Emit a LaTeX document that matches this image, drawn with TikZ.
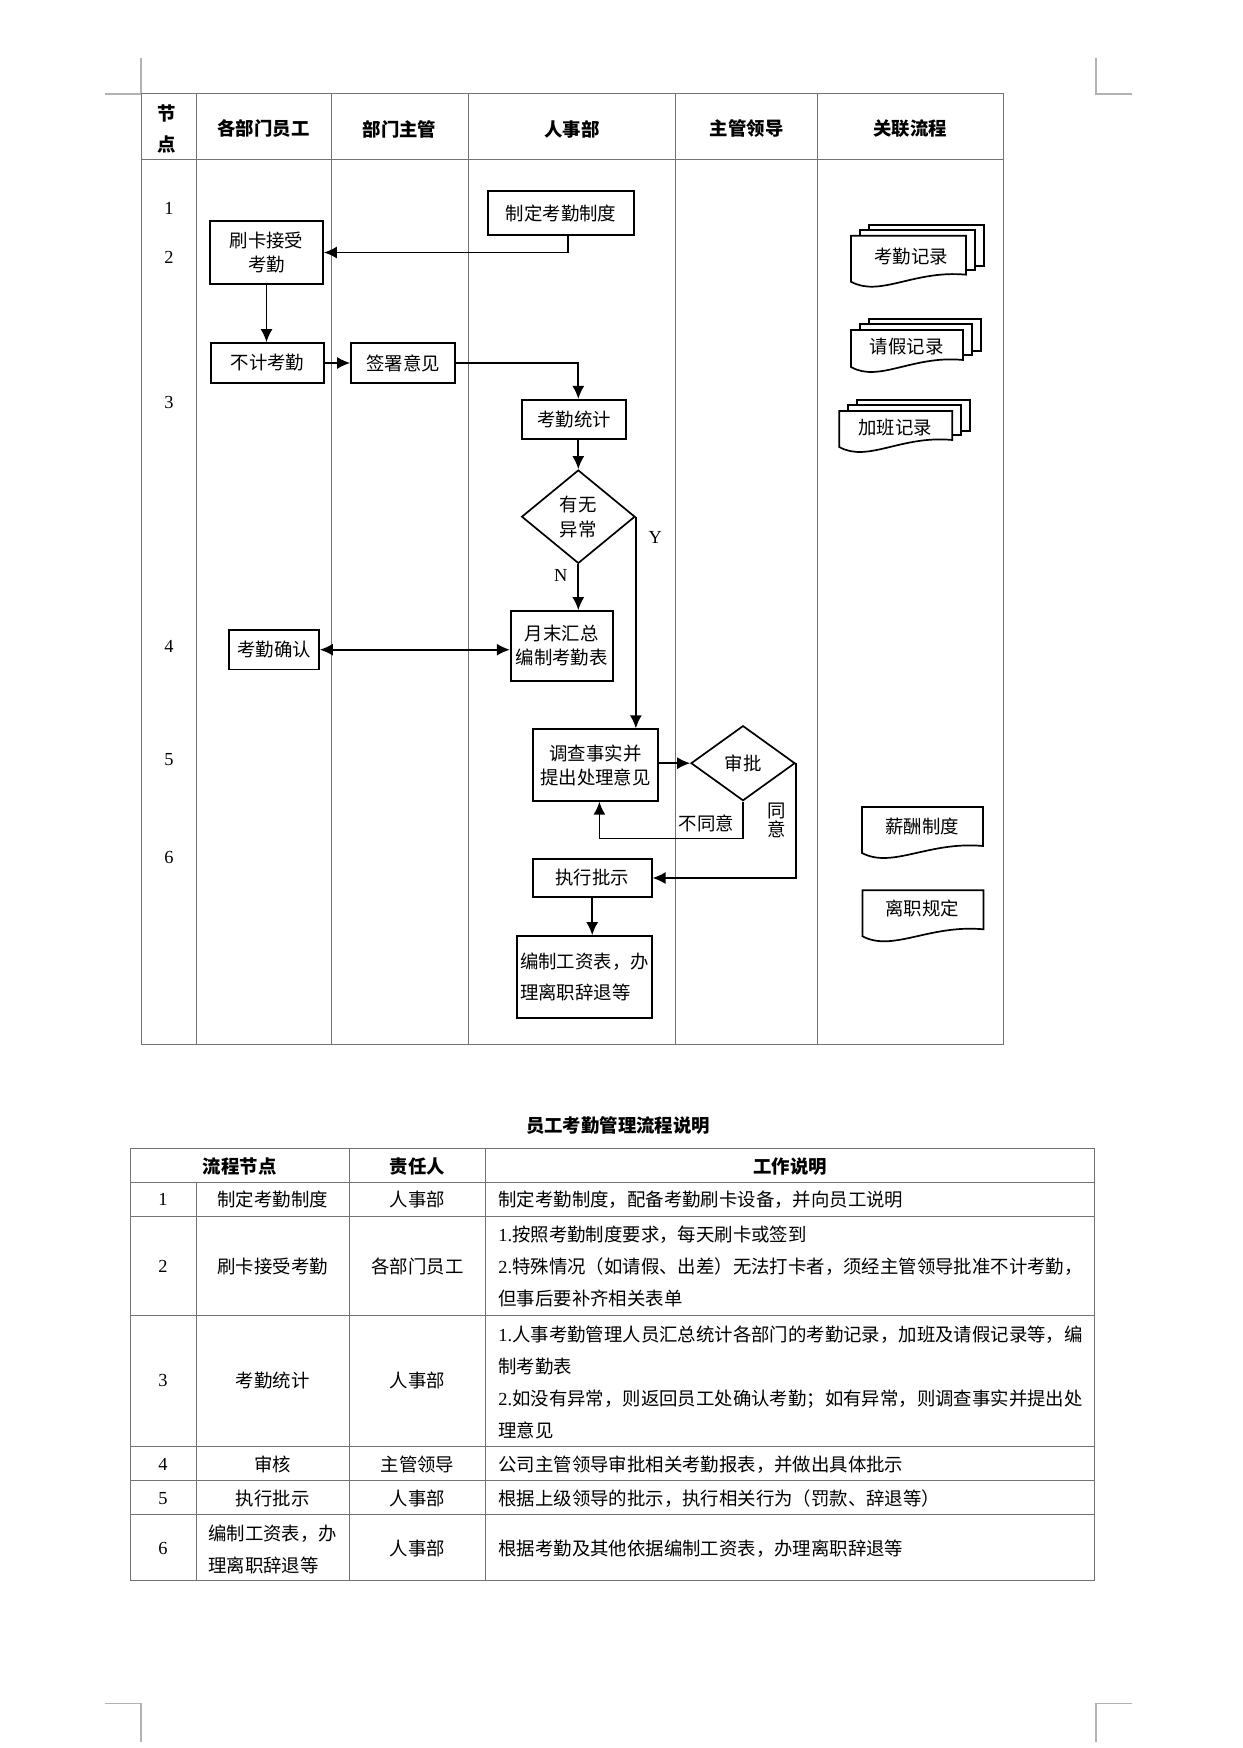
\documentclass[tikz,border=0pt]{standalone}
\usepackage{fontspec}
\setmainfont{Noto Sans CJK SC}
\newfontfamily\serifnum{Liberation Serif}
\usetikzlibrary{arrows.meta, shapes.geometric, positioning, calc}
\tikzset{> = { Latex[length = 6.5pt, width = 6pt] }}
\tikzset{
	grid/.style = {draw = black!55, line width = 0.5pt},
	crop/.style = {draw = black!30, line width = 0.6pt},
	box/.style = {draw, line width = 0.85pt, inner sep = 0pt, align = center, font = \fontsize{9.2}{12}\selectfont},
	dia/.style = {draw, diamond, line width = 0.85pt, inner sep = 0pt, align = center, font = \fontsize{9.2}{12.5}\selectfont},
	flow/.style = {line width = 0.85pt, ->},
	head/.style = {inner sep = 0pt, align = center, font = \fontsize{9.2}{15.5}\selectfont\bfseries},
	txt/.style = {inner sep = 0pt, align = left, font = \fontsize{9.2}{16}\selectfont},
	num/.style = {inner sep = 0pt, font = \fontsize{9.2}{11}\serifnum},
	doc/.style = {draw, fill = white, line width = 0.85pt}
}
% document symbol: x, y, width, height
\newcommand{\docshape}[4]{%
	\draw[doc] (#1, #2 + #4) -- (#1, #2) -- (#1 + #3, #2) -- (#1 + #3, #2 + #4 - 7)
		.. controls (#1 + 0.55*#3, #2 + #4 - 12) and (#1 + 0.25*#3, #2 + #4 + 16) .. cycle;}
\newcommand{\stackdoc}[4]{%
	\draw[doc] (#1 + 18, #2 - 11) rectangle (#1 + #3 + 18, #2 + #4 - 16);
	\draw[doc] (#1 + 9, #2 - 6) rectangle (#1 + #3 + 9, #2 + #4 - 12);
	\docshape{#1}{#2}{#3}{#4}}

\begin{document}
\begin{tikzpicture}[x = 0.5pt, y = -0.5pt]
	\fill [white] (0, 0) rectangle (1242, 1748);
	\useasboundingbox (0, 0) rectangle (1242, 1748);

	% crop marks
	\draw [crop] (141, 58) -- (141, 94) -- (105, 94);
	\draw [crop] (1096, 58) -- (1096, 94) -- (1132, 94);
	\draw [crop] (141, 1742) -- (141, 1703.6) -- (105, 1703.6);
	\draw [crop] (1096, 1742) -- (1096, 1703.6) -- (1132, 1703.6);

	% swimlanes
	\draw [grid] (141, 94) rectangle (1003, 1044);
	\draw [grid] (141, 160) -- (1003, 160);
	\foreach \x in {196, 331, 468.3, 675.7, 817.7}
		\draw [grid] (\x, 94) -- (\x, 1044);

	\node [head] (hjd) at (166.7, 128.7) {节\\点};
	\node [head] (hyg) at (263.5, 129) {各部门员工};
	\node [head] (hzg) at (399.5, 129) {部门主管};
	\node [head] (hrs) at (572, 129) {人事部};
	\node [head] (hld) at (746.7, 129) {主管领导};
	\node [head] (hgl) at (910.3, 129) {关联流程};

	\node [num] (n1) at (169, 208.5) {1};
	\node [num] (n2) at (169, 257.5) {2};
	\node [num] (n3) at (169, 403) {3};
	\node [num] (n4) at (169, 646) {4};
	\node [num] (n5) at (169, 759.5) {5};
	\node [num] (n6) at (169, 857) {6};

	% flow
	\node [box, minimum width = 73pt, minimum height = 22pt] (zhiding) at (561, 213) {制定考勤制度};
	\node [box, minimum width = 56.5pt, minimum height = 31.5pt] (shuaka) at (266.5, 252.5) {刷卡接受\\考勤};
	\node [box, minimum width = 56.5pt, minimum height = 20pt] (buji) at (267.5, 363) {不计考勤};
	\node [box, minimum width = 52pt, minimum height = 20pt] (qianshu) at (403, 363) {签署意见};
	\node [box, minimum width = 52pt, minimum height = 19.7pt] (tongji) at (574, 419.5) {考勤统计};
	\node [dia, minimum width = 56.7pt, minimum height = 46.7pt] (youwu) at (578.3, 516.7) {有无\\异常};
	\node [box, minimum width = 51pt, minimum height = 35pt] (yuemo) at (561.7, 646) {月末汇总\\编制考勤表};
	\node [box, minimum width = 45pt, minimum height = 19.7pt] (queren) at (274, 649.7) {考勤确认};
	\node [box, minimum width = 62.3pt, minimum height = 35.8pt] (diaocha) at (595.4, 765) {调查事实并\\提出处理意见};
	\node [dia, minimum width = 52pt, minimum height = 37.5pt] (shenpi) at (743, 763.2) {审批};
	\node [box, minimum width = 59.5pt, minimum height = 19pt] (zhixing) at (592.2, 878) {执行批示};
	\node [box, minimum width = 67.5pt, minimum height = 41pt, align = left, font = \fontsize{9.2}{15.5}\selectfont] (bianzhi) at (584.5, 977) {编制工资表，办\\理离职辞退等};

	\draw [flow] ([xshift = 3.5pt]zhiding.south) |- (shuaka.east);
	\draw [flow] (shuaka.south) -- (shuaka.south |- buji.north);
	\draw [flow] (buji.east) -- (qianshu.west);
	\draw [flow] (qianshu.east) -| (tongji.north -| youwu.north);
	\draw [flow] (tongji.south -| youwu.north) -- (youwu.north);
	\draw [flow] (youwu.south) -- node[num, pos = 0.25, left = 5pt]{N} (yuemo.north -| youwu.south);
	\draw [<->, line width = 0.85pt] (queren.east) -- (queren.east -| yuemo.west);
	\draw [flow] (youwu.east) -- node[num, pos = 0.1, right = 6pt]{Y} (youwu.east |- diaocha.north);
	\draw [flow] (diaocha.east |- shenpi.west) -- (shenpi.west);
	\draw [flow] (shenpi.south) -- ++(0, 37) node[txt, above left = 3pt and 4pt]{不同意} -| ([xshift = 2pt]diaocha.south);
	\draw [flow] (shenpi.east) |- node[txt, pos = 0.25, left = 4.5pt, align = center, font = \fontsize{9.2}{8}\selectfont]{同\\意} (zhixing.east);
	\draw [flow] (zhixing.south) -- (zhixing.south |- bianzhi.north);

	% related documents
	\stackdoc{851}{235.7}{115}{46}
	\node [txt] (kqjl) at (911, 257) {考勤记录};
	\stackdoc{851}{330}{112}{37}
	\node [txt] (qjjl) at (906.7, 346.7) {请假记录};
	\stackdoc{839.3}{411}{113}{36}
	\node [txt] (jbjl) at (895.3, 427.7) {加班记录};
	\docshape{862}{807}{121}{46}
	\node [txt] (xczd) at (922, 826) {薪酬制度};
	\docshape{862.5}{890.3}{121}{46}
	\node [txt] (lzgd) at (922, 908.6) {离职规定};

	% description table
	\node [head] (ttl) at (618, 1126) {员工考勤管理流程说明};
	\draw [grid] (130, 1148.3) rectangle (1094, 1580.7);
	\foreach \y in {1182.7, 1216.7, 1315, 1446, 1480, 1514}
		\draw [grid] (130, \y) -- (1094, \y);
	\draw [grid] (196, 1182.7) -- (196, 1580.7);
	\foreach \x in {349.3, 485.7}
		\draw [grid] (\x, 1148.3) -- (\x, 1580.7);

	\node [head] (tjd) at (239.7, 1166.5) {流程节点};
	\node [head] (tzr) at (417.5, 1166.5) {责任人};
	\node [head] (tsm) at (790, 1166.5) {工作说明};

	\node [num] (r1) at (163, 1199.7) {1};
	\node [txt] (a1) at (272.7, 1199.7) {制定考勤制度};
	\node [txt] (b1) at (417.5, 1199.7) {人事部};
	\node [txt, anchor = west] (c1) at (498, 1199.7) {制定考勤制度，配备考勤刷卡设备，并向员工说明};

	\node [num] (r2) at (163, 1266) {2};
	\node [txt] (a2) at (272.7, 1266) {刷卡接受考勤};
	\node [txt] (b2) at (417.5, 1266) {各部门员工};
	\node [txt, anchor = west] (c2) at (498, 1266.4) {{\serifnum 1.}按照考勤制度要求，每天刷卡或签到\\{\serifnum 2.}特殊情况（如请假、出差）无法打卡者，须经主管领导批准不计考勤，\\但事后要补齐相关表单};

	\node [num] (r3) at (163, 1380.5) {3};
	\node [txt] (a3) at (272.7, 1380.5) {考勤统计};
	\node [txt] (b3) at (417.5, 1380.5) {人事部};
	\node [txt, anchor = west] (c3) at (498, 1382.1) {{\serifnum 1.}人事考勤管理人员汇总统计各部门的考勤记录，加班及请假记录等，编\\制考勤表\\{\serifnum 2.}如没有异常，则返回员工处确认考勤；如有异常，则调查事实并提出处\\理意见};

	\node [num] (r4) at (163, 1464.3) {4};
	\node [txt] (a4) at (272.7, 1464.3) {审核};
	\node [txt] (b4) at (417.5, 1464.3) {主管领导};
	\node [txt, anchor = west] (c4) at (498, 1464.3) {公司主管领导审批相关考勤报表，并做出具体批示};

	\node [num] (r5) at (163, 1498.8) {5};
	\node [txt] (a5) at (272.7, 1498.8) {执行批示};
	\node [txt] (b5) at (417.5, 1498.8) {人事部};
	\node [txt, anchor = west] (c5) at (498, 1498.8) {根据上级领导的批示，执行相关行为（罚款、辞退等）};

	\node [num] (r6) at (163, 1548.7) {6};
	\node [txt] (a6) at (272.7, 1549.3) {编制工资表，办\\理离职辞退等};
	\node [txt] (b6) at (417.5, 1548.7) {人事部};
	\node [txt, anchor = west] (c6) at (498, 1548.7) {根据考勤及其他依据编制工资表，办理离职辞退等};
\end{tikzpicture}
\end{document}
